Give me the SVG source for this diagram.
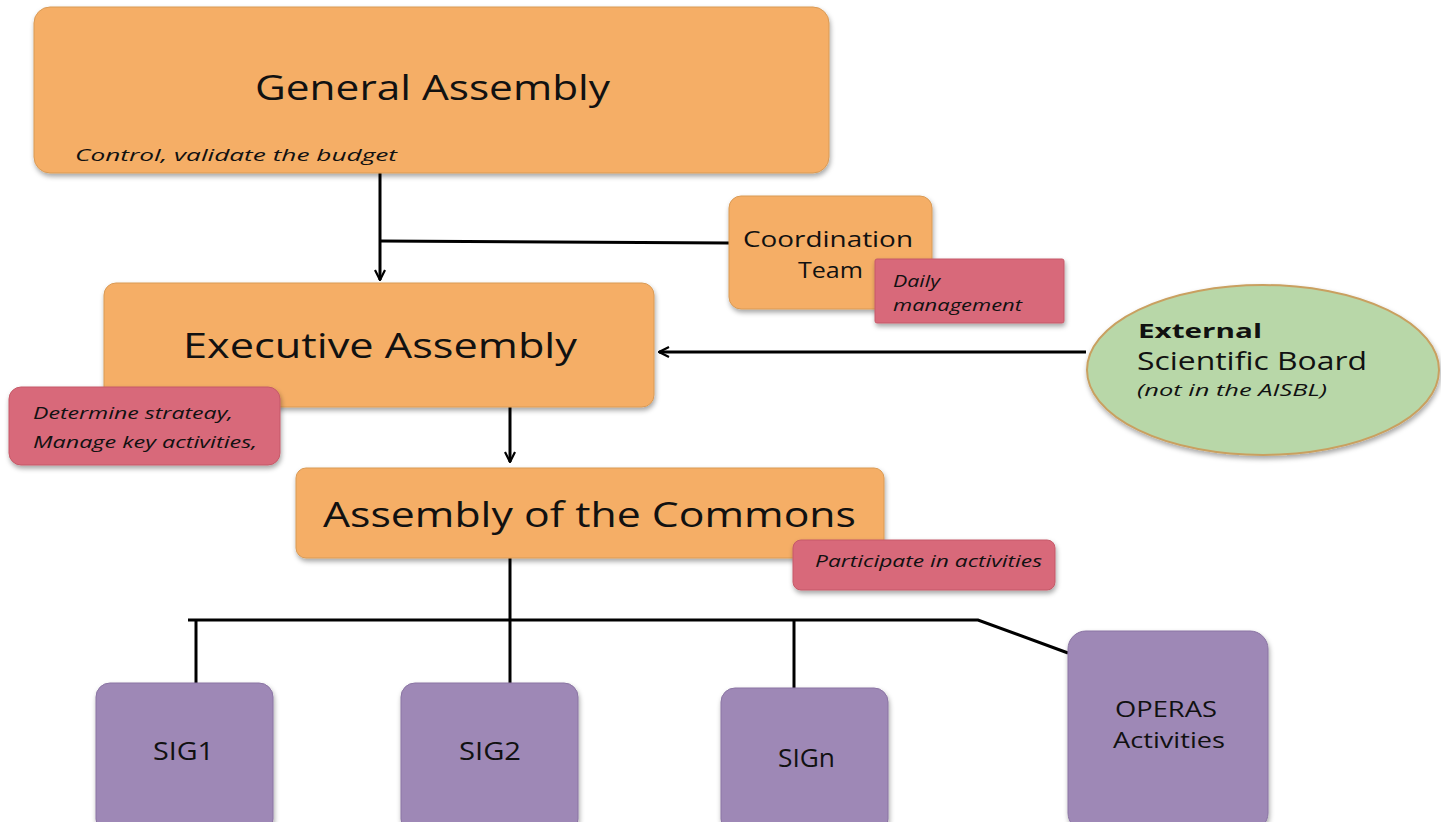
<svg xmlns="http://www.w3.org/2000/svg" width="1441" height="822" viewBox="0 0 1441 822">
<defs>
<filter id="sh" x="-10%" y="-10%" width="120%" height="130%">
<feDropShadow dx="1" dy="3" stdDeviation="2.5" flood-color="#000" flood-opacity="0.35"/>
</filter>
<marker id="ah" viewBox="0 0 12 12" refX="11" refY="6" markerWidth="12" markerHeight="12" markerUnits="userSpaceOnUse" orient="auto">
<path d="M1,1 L11,6 L1,11" fill="none" stroke="#000" stroke-width="2.2"/>
</marker>
<style>
.or{fill:#F5AE66;stroke:#D99A55;stroke-width:1;filter:url(#sh)}
.pk{fill:#D8697A;stroke:#C55A68;stroke-width:1;filter:url(#sh)}
.pu{fill:#9E88B6;stroke:#8A74A3;stroke-width:1;filter:url(#sh)}
.gr{fill:#B8D7A8;stroke:#C9A060;stroke-width:2;filter:url(#sh)}
text{font-family:"Open Sans","Liberation Sans",sans-serif;fill:#111}
.big{font-size:35px}
.mid{font-size:26px}
.two{font-size:22.5px}
.it{font-style:italic;font-size:17px}
.ln{fill:none;stroke:#000;stroke-width:3}
</style>
</defs>
<g id="connectors">
<path class="ln" d="M380,173 V280" marker-end="url(#ah)"/>
<path class="ln" d="M380,241 L729,243"/>
<path class="ln" d="M1086,352 H659" marker-end="url(#ah)"/>
<path class="ln" d="M510,407 V462" marker-end="url(#ah)"/>
<path class="ln" d="M510,558 V683"/>
<path class="ln" d="M188,620 H978 L1068,653"/>
<path class="ln" d="M196,620 V683"/>
<path class="ln" d="M794,620 V690"/>
</g>
<g id="general-assembly">
<rect class="or" x="34" y="7" width="795" height="166" rx="16"/>
<text class="big" x="255" y="100" textLength="355" lengthAdjust="spacingAndGlyphs">General Assembly</text>
<text class="it" x="75" y="161" font-size="20" textLength="322" lengthAdjust="spacingAndGlyphs">Control, validate the budget</text>
</g>
<g id="coordination-team">
<rect class="or" x="729" y="196" width="203" height="113" rx="12"/>
<text class="two" x="743" y="247" textLength="170" lengthAdjust="spacingAndGlyphs">Coordination</text>
<text class="two" x="798" y="278" textLength="65" lengthAdjust="spacingAndGlyphs">Team</text>
</g>
<g id="daily-management">
<rect class="pk" x="875" y="259" width="189" height="64" rx="2"/>
<text class="it" x="893" y="287" textLength="47" lengthAdjust="spacingAndGlyphs">Daily</text>
<text class="it" x="893" y="311" textLength="129" lengthAdjust="spacingAndGlyphs">management</text>
</g>
<g id="executive-assembly">
<rect class="or" x="104" y="283" width="550" height="124" rx="12"/>
<text class="big" x="183" y="358" textLength="394" lengthAdjust="spacingAndGlyphs">Executive Assembly</text>
</g>
<g id="determine-strategy">
<rect class="pk" x="9" y="387" width="271" height="78" rx="12"/>
<text class="it" x="33" y="419" font-size="18" textLength="200" lengthAdjust="spacingAndGlyphs">Determine  strateay,</text>
<text class="it" x="33" y="448" font-size="18" textLength="224" lengthAdjust="spacingAndGlyphs">Manage key activities,</text>
</g>
<g id="scientific-board">
<ellipse class="gr" cx="1263" cy="370" rx="176" ry="85"/>
<text x="1138" y="338" font-size="20" font-weight="bold" textLength="124" lengthAdjust="spacingAndGlyphs">External</text>
<text x="1137" y="370" font-size="25" textLength="230" lengthAdjust="spacingAndGlyphs">Scientific Board</text>
<text x="1137" y="396" font-size="16" font-style="italic" textLength="190" lengthAdjust="spacingAndGlyphs">(not in the AISBL)</text>
</g>
<g id="assembly-commons">
<rect class="or" x="296" y="468" width="588" height="90" rx="10"/>
<text class="big" x="323" y="527" textLength="533" lengthAdjust="spacingAndGlyphs">Assembly of the Commons</text>
</g>
<g id="participate">
<rect class="pk" x="793" y="540" width="262" height="50" rx="8"/>
<text class="it" x="815" y="567" font-size="18" textLength="227" lengthAdjust="spacingAndGlyphs">Participate in activities</text>
</g>
<g id="sig1">
<rect class="pu" x="96" y="683" width="177" height="150" rx="14"/>
<text class="mid" x="153" y="760" textLength="61" lengthAdjust="spacingAndGlyphs">SIG1</text>
</g>
<g id="sig2">
<rect class="pu" x="401" y="683" width="177" height="150" rx="14"/>
<text class="mid" x="459" y="760" textLength="62" lengthAdjust="spacingAndGlyphs">SIG2</text>
</g>
<g id="sign">
<rect class="pu" x="721" y="688" width="167" height="145" rx="14"/>
<text class="mid" x="778" y="767" textLength="57" lengthAdjust="spacingAndGlyphs">SIGn</text>
</g>
<g id="operas">
<rect class="pu" x="1068" y="631" width="200" height="200" rx="18"/>
<text class="two" x="1115" y="717" textLength="102" lengthAdjust="spacingAndGlyphs">OPERAS</text>
<text class="two" x="1113" y="748" textLength="112" lengthAdjust="spacingAndGlyphs">Activities</text>
</g>
</svg>
